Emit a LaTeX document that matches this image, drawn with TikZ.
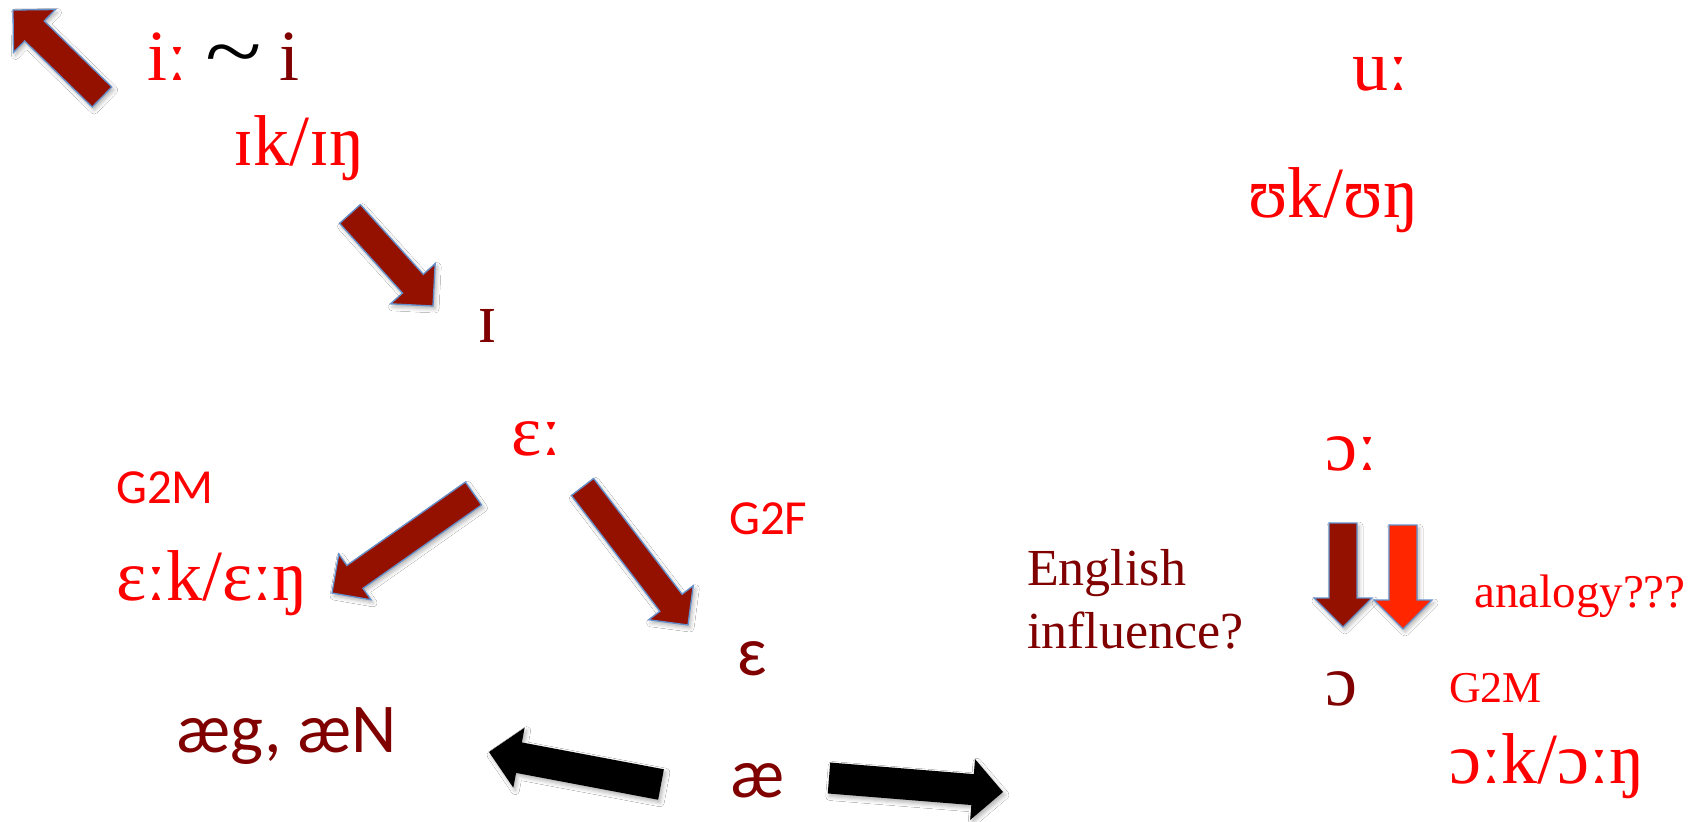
\documentclass[tikz,border=0pt]{standalone}
\usepackage{graphicx}
\usepackage{fontspec}
\setmainfont{Liberation Serif}
\newfontfamily\sanstext{Carlito}
\usetikzlibrary{calc,shadows.blur}

\definecolor{ipared}{RGB}{255,0,0}
\definecolor{ipadark}{RGB}{128,0,0}
\definecolor{arrowfill}{RGB}{148,17,0}
\definecolor{arrowbright}{RGB}{255,38,0}
\definecolor{arrowedge}{RGB}{100,145,205}

% Block arrow from a tail coordinate to a tip coordinate:
% #1 style, #2 half shaft width, #3 half head width (= head length), #4 tail, #5 tip
\newcommand\blockarrow[5]{%
  \coordinate (hb) at ($(#5)!#3!(#4)$);
  \path[#1] ($(#4)!#2!90:(#5)$) -- ($(hb)!#2!90:(#5)$) -- ($(hb)!#3!90:(#5)$)
    -- (#5) -- ($(hb)!#3!-90:(#5)$) -- ($(hb)!#2!-90:(#5)$)
    -- ($(#4)!#2!-90:(#5)$) -- cycle;
}

\tikzset{
  softshadow/.style={blur shadow={shadow xshift=2pt, shadow yshift=-3pt,
      shadow blur radius=4pt, shadow opacity=30}},
  shiftarrow/.style={fill=arrowfill, draw=arrowedge, line width=1.3pt, softshadow},
  analogyarrow/.style={fill=arrowbright, draw=arrowedge, line width=1.3pt, softshadow},
  splitarrow/.style={fill=black, softshadow},
  lbl/.style={inner sep=0pt, anchor=base west},
  ipa/.style={lbl, font=\fontsize{72}{86}\selectfont},
  note/.style={lbl, font=\fontsize{52}{63}\selectfont},
  smallnote/.style={lbl, font=\fontsize{47}{56}\selectfont},
  serifgroup/.style={lbl, font=\fontsize{44}{52}\selectfont},
  sansgroup/.style={lbl, font=\sanstext\fontsize{49}{58}\selectfont},
  sansipa/.style={lbl, font=\sanstext\fontsize{70}{82}\selectfont},
}

\begin{document}
\begin{tikzpicture}[x=1pt, y=-1pt]
\fill[white] (0,0) rectangle (1701,822);
\useasboundingbox (0,0) rectangle (1701,822);

% front vowels
\node[ipa] (iLong) at (147,80)
  {\textcolor{ipared}{iː} \scalebox{1.45}[1.2]{\textasciitilde} \textcolor{ipadark}{i}};
\node[ipa, text=ipared] (iVelar) at (233,165) {ɪk/ɪŋ};
\node[ipa, text=ipadark] (iLax) at (477,342) {ɪ};
\node[ipa, text=ipared] (eLong) at (511,455) {ɛː};
\node[sansgroup, text=ipared] (g2mLeft) at (116,503) {G2M};
\node[ipa, text=ipared] (eVelar) at (116,600) {ɛːk/ɛːŋ};
\node[sansgroup, text=ipared] (g2f) at (729,534) {G2F};
\node[sansipa, text=ipadark] (eShort) at (737,675) {ɛ};
\node[sansipa, text=ipadark] (aeVelar) at (176,752) {æg, æN};
\node[sansipa, text=ipadark] (ae) at (730,797) {æ};

% back vowels
\node[ipa, text=ipared] (uLong) at (1352,90) {uː};
\node[ipa, text=ipared] (uVelar) at (1248,217) {ʊk/ʊŋ};
\node[ipa, text=ipared] (oLong) at (1325,470) {ɔː};
\node[note, text=ipadark, align=left] (english) at (1027,648) {English\\influence?};
\node[smallnote, text=ipared] (analogy) at (1474,607) {analogy???};
\node[ipa, text=ipadark] (oShort) at (1325,705) {ɔ};
\node[serifgroup, text=ipared] (g2mRight) at (1449,702) {G2M};
\node[ipa, text=ipared] (oVelar) at (1449,783) {ɔːk/ɔːŋ};

% arrow end points
\coordinate (raiseT) at (102,97);    \coordinate (raiseH) at (13,10);
\coordinate (laxT) at (350,214);     \coordinate (laxH) at (433,306);
\coordinate (velT) at (473.5,493.5); \coordinate (velH) at (332,593);
\coordinate (shortT) at (582.5,487); \coordinate (shortH) at (688,625);
\coordinate (leftT) at (661,784.5);  \coordinate (leftH) at (489,752);
\coordinate (rightT) at (829,778);   \coordinate (rightH) at (1003,792);
\coordinate (downT) at (1343,523);   \coordinate (downH) at (1343,627);
\coordinate (anaT) at (1403,525);    \coordinate (anaH) at (1403,629);

\blockarrow{shiftarrow}{14pt}{30pt}{raiseT}{raiseH}
\blockarrow{shiftarrow}{14pt}{30pt}{laxT}{laxH}
\blockarrow{shiftarrow}{14pt}{28pt}{velT}{velH}
\blockarrow{shiftarrow}{14pt}{28pt}{shortT}{shortH}
\blockarrow{splitarrow}{15.5pt}{30.5pt}{leftT}{leftH}
\blockarrow{splitarrow}{15.5pt}{30.5pt}{rightT}{rightH}
\blockarrow{shiftarrow}{14pt}{29pt}{downT}{downH}
\blockarrow{analogyarrow}{14pt}{29pt}{anaT}{anaH}
\end{tikzpicture}
\end{document}
